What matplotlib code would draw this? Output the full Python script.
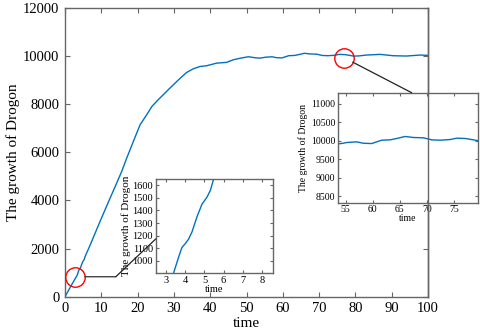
import matplotlib
matplotlib.use("Agg")
import matplotlib.pyplot as plt
from matplotlib.patches import ConnectionPatch
from matplotlib.lines import Line2D

plt.rcParams['font.family'] = ['Liberation Serif', 'DejaVu Serif']

# tempo e valores
tempo = [0, 1, 2, 3, 3.38, 3.65, 3.82, 4.0, 4.17, 4.35, 4.61, 4.87, 5.13, 5.31, 5.48,
         5.8, 6.3, 6.8, 7.3, 7.8, 8.3, 8.8, 10, 12, 14, 15.6, 17, 18.4, 19.7, 20.7,
         22.5, 23.9, 25.3, 27.1, 28.9, 31.7, 33.5, 35.3, 37.2, 39.0, 41.8, 44.5,
         46.4, 48.2, 50.5, 52.5, 53.65, 54.57, 55.18, 57.03, 58.26, 59.8, 60.72,
         61.65, 63.18, 64.42, 65.95, 67.49, 69.34, 70.88, 72.42, 74.26, 75.49,
         77.03, 78.57, 79.49, 81, 83.1, 86.8, 90.4, 94.1, 97.8, 100]
crescimento = [0, 270, 540, 800, 900, 1030, 1105, 1137, 1172, 1230, 1350, 1450, 1505,
               1560, 1650, 1760, 1930, 2100, 2280, 2460, 2640, 2820, 3250, 3950, 4640,
               5200, 5760, 6290, 6780, 7150, 7560, 7900, 8130, 8400, 8670, 9077,
               9320, 9470, 9570, 9600, 9710, 9740, 9850, 9910, 9975, 9930, 9918,
               9936, 9955, 9973, 9936, 9927, 9973, 10018, 10027, 10064, 10118, 10091,
               10082, 10027, 10018, 10036, 10073, 10064, 10027, 10000, 10010, 10045,
               10073, 10017, 10004, 10045, 10031]

# circulos de destaque (centro em dados)
circulo1 = (2.75, 830)
circulo2 = (76.9, 9934)

azul = '#0072BD'
cinza = '#666666'
rotulo = 'The growth of Drogon'


def estilo(ax, tam, comp):
    for s in ax.spines.values():
        s.set_color(cinza)
        s.set_linewidth(1.0)
    ax.tick_params(direction='in', top=True, right=True, length=comp,
                   width=0.8, color=cinza, labelsize=tam, pad=2)


fig = plt.figure(figsize=(4.8, 3.34), dpi=100)

ax = fig.add_axes([0.1354, 0.1117, 0.7563, 0.8643])
ax.plot(tempo, crescimento, color=azul, lw=1.0)
ax.set_xlim(0, 100)
ax.set_ylim(0, 12000)
ax.set_xticks(range(0, 101, 10))
ax.set_yticks(range(0, 12001, 2000))
estilo(ax, 10.5, 3.5)
ax.tick_params(pad=4)
ax.set_xlabel('time', fontsize=11, labelpad=1)
ax.set_ylabel(rotulo, fontsize=11, labelpad=2)

for c in (circulo1, circulo2):
    ax.plot(*c, 'o', ms=14, mfc='none', mec='red', mew=1.0, zorder=5)

# inset da direita
ax2 = fig.add_axes([0.7042, 0.3931, 0.2917, 0.3293])
ax2.plot(tempo, crescimento, color=azul, lw=1.0)
ax2.set_xlim(53.6, 79.4)
ax2.set_ylim(8330, 11300)
ax2.set_xticks(range(55, 80, 5))
ax2.set_yticks(range(8500, 11001, 500))
estilo(ax2, 7, 2.5)
ax2.set_xlabel('time', fontsize=7, labelpad=0)
ax2.set_ylabel(rotulo, fontsize=7, labelpad=2)

# inset da esquerda
ax3 = fig.add_axes([0.3244, 0.1817, 0.245, 0.2824])
ax3.plot(tempo, crescimento, color=azul, lw=1.0)
ax3.set_xlim(2.45, 8.6)
ax3.set_ylim(900, 1650)
ax3.set_xticks(range(3, 9))
ax3.set_yticks(range(1000, 1601, 100))
estilo(ax3, 7.5, 2.5)
ax3.set_xlabel('time', fontsize=7.5, labelpad=0)
ax3.set_ylabel(rotulo, fontsize=8, labelpad=1)

# linhas de ligacao
raio = 7.0
l1 = ConnectionPatch(circulo1, (14.0, circulo1[1]), 'data', 'data', axesA=ax, axesB=ax,
                     color='#444444', lw=1.0, shrinkA=raio, shrinkB=0)
fig.add_artist(l1)
l2 = ConnectionPatch((14.0, circulo1[1]), (0, 0.364), 'data', 'axes fraction',
                     axesA=ax, axesB=ax3, color='#222222', lw=0.9, shrinkA=0, shrinkB=0)
fig.add_artist(l2)
l3 = ConnectionPatch(circulo2, (0.526, 1.0), 'data', 'axes fraction',
                     axesA=ax, axesB=ax2, color='#222222', lw=0.9, shrinkA=raio, shrinkB=0)
fig.add_artist(l3)

# borda direita do eixo principal por cima do inset
x_dir = 0.1354 + 0.7563
fig.add_artist(Line2D([x_dir, x_dir], [0.1117, 0.976], transform=fig.transFigure,
                      color=cinza, lw=1.0, zorder=10))

plt.savefig('out.png', dpi=100)
